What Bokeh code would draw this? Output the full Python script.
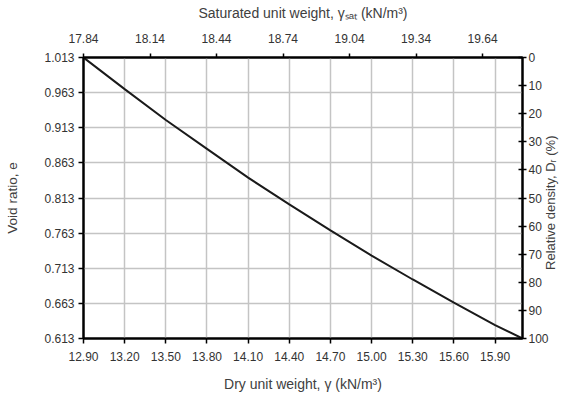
import math
from bokeh.plotting import figure
from bokeh.models import Range1d, LinearAxis, FixedTicker, PrintfTickFormatter
from bokeh.embed import file_html
from bokeh.resources import INLINE

# ---- data ----
dry_unit_weight = [12.90, 13.20, 13.50, 13.80, 14.10, 14.40, 14.70, 15.00, 15.30, 15.60, 15.90, 16.10]
void_ratio = [1.013, 0.968, 0.924, 0.883, 0.842, 0.804, 0.767, 0.731, 0.697, 0.664, 0.632, 0.613]

bottom_ticks = [12.90, 13.20, 13.50, 13.80, 14.10, 14.40, 14.70, 15.00, 15.30, 15.60, 15.90]
left_ticks = [0.613, 0.663, 0.713, 0.763, 0.813, 0.863, 0.913, 0.963, 1.013]
top_ticks = [17.84, 18.14, 18.44, 18.74, 19.04, 19.34, 19.64]
right_ticks = [0, 10, 20, 30, 40, 50, 60, 70, 80, 90, 100]

x_min, x_max = 12.90, 16.10
e_min, e_max = 0.613, 1.013
sat_min, sat_max = 17.84, 19.82
dr_top, dr_bottom = 0, 100

FONT = "Liberation Sans"
TICK_COLOR = "#333333"
TITLE_COLOR = "#404040"
TICK_SIZE = "12px"
TITLE_SIZE = "14px"
SIDE_TITLE_SIZE = "13.5px"

p = figure(width=568, height=396, output_backend="svg", toolbar_location=None,
           x_range=Range1d(x_min, x_max), y_range=Range1d(e_min, e_max),
           min_border_left=83, min_border_right=43, min_border_top=57, min_border_bottom=58)
p.extra_x_ranges = {"sat": Range1d(sat_min, sat_max)}
p.extra_y_ranges = {"dr": Range1d(start=dr_bottom, end=dr_top)}

p.background_fill_color = "white"
p.border_fill_color = "white"
p.outline_line_color = "black"
p.outline_line_width = 2

# grid
p.xgrid.ticker = FixedTicker(ticks=bottom_ticks)
p.ygrid.ticker = FixedTicker(ticks=left_ticks)
for g in (p.xgrid, p.ygrid):
    g.grid_line_color = "#c4c4c4"
    g.grid_line_width = 1.5

def style(ax, title_size=TITLE_SIZE):
    ax.axis_line_color = "black"
    ax.axis_line_width = 2
    ax.major_tick_line_color = "black"
    ax.major_tick_line_width = 1.5
    ax.minor_tick_line_color = None
    ax.major_label_text_font = FONT
    ax.major_label_text_font_size = TICK_SIZE
    ax.major_label_text_color = TICK_COLOR
    ax.axis_label_text_font = FONT
    ax.axis_label_text_font_size = title_size
    ax.axis_label_text_font_style = "normal"
    ax.axis_label_text_color = TITLE_COLOR

# bottom axis
xb = p.xaxis[0]
xb.ticker = FixedTicker(ticks=bottom_ticks)
xb.formatter = PrintfTickFormatter(format="%.2f")
xb.axis_label = "Dry unit weight, γ (kN/m³)"
style(xb)
xb.major_tick_in = 0
xb.major_tick_out = 5
xb.major_label_standoff = 8
xb.axis_label_standoff = 12

# left axis
yl = p.yaxis[0]
yl.ticker = FixedTicker(ticks=left_ticks)
yl.formatter = PrintfTickFormatter(format="%.3f")
yl.axis_label = "Void ratio, e"
style(yl, SIDE_TITLE_SIZE)
yl.major_tick_in = 0
yl.major_tick_out = 5
yl.major_label_standoff = 4
yl.axis_label_standoff = 21

# top axis
xt = LinearAxis(x_range_name="sat", ticker=FixedTicker(ticks=top_ticks),
                formatter=PrintfTickFormatter(format="%.2f"),
                axis_label="Saturated unit weight, γₛₐₜ (kN/m³)")
style(xt)
xt.major_tick_in = 0
xt.major_tick_out = 4
xt.major_label_standoff = 11
xt.axis_label_standoff = 10
p.add_layout(xt, "above")

# right axis: title reads bottom-to-top, anchored at the lower end of the axis
# and padded with no-break spaces so that it sits around the middle
right_title = "\u00a0" * 19 + "Relative density, Dᵣ (%)"
yr = LinearAxis(y_range_name="dr", ticker=FixedTicker(ticks=right_ticks),
                formatter=PrintfTickFormatter(format="%d"),
                axis_label=right_title)
style(yr, "13px")
yr.major_tick_in = 4
yr.major_tick_out = 4
yr.major_label_standoff = 2
yr.axis_label_standoff = -1
yr.axis_label_orientation = math.pi / 2
yr.axis_label_align = "end"
p.add_layout(yr, "right")

p.line(dry_unit_weight, void_ratio, line_color="#1a1a1a", line_width=2)

open("out.html", "w").write(file_html(p, INLINE))
